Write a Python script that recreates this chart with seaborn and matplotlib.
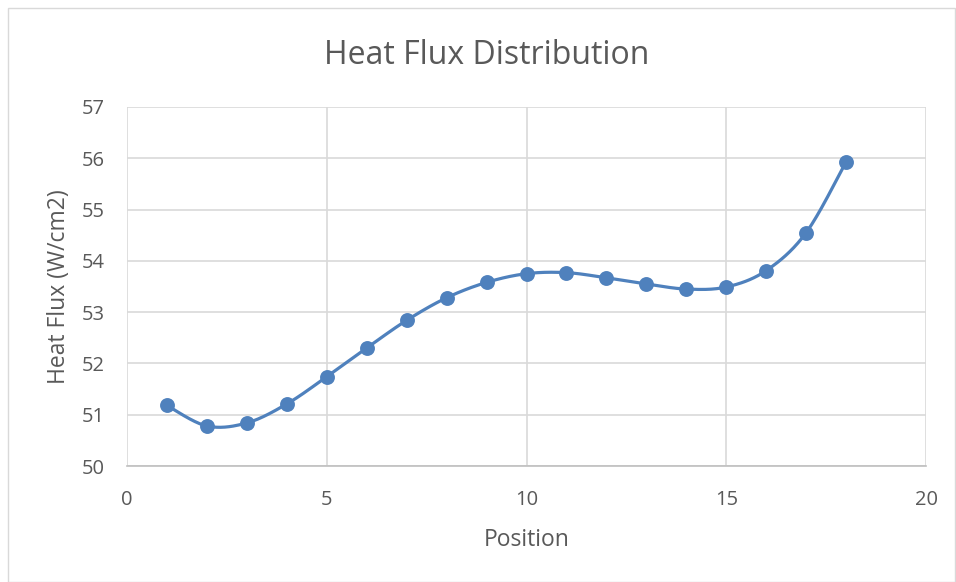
import numpy as np
import pandas as pd
import matplotlib
matplotlib.use("Agg")
import matplotlib.pyplot as plt
import seaborn as sns
from matplotlib.patches import Rectangle

positions = [1, 2, 3, 4, 5, 6, 7, 8, 9, 10, 11, 12, 13, 14, 15, 16, 17, 18]
heat_flux = [51.18, 50.78, 50.84, 51.21, 51.74, 52.30, 52.84, 53.28, 53.58,
             53.75, 53.77, 53.67, 53.55, 53.45, 53.49, 53.81, 54.55, 55.93]
x_ticks = [0, 5, 10, 15, 20]
y_ticks = [50, 51, 52, 53, 54, 55, 56, 57]
title = "Heat Flux Distribution"
x_label = "Position"
y_label = "Heat Flux (W/cm2)"

sns.set_theme(style="white")
plt.rcParams['font.family'] = ['Open Sans', 'DejaVu Sans']

df = pd.DataFrame({"Position": positions, "HeatFlux": heat_flux})

# Excel-style smoothed line (Catmull-Rom Bezier through the data points)
def smooth_curve(xs, ys, n=30):
    pts = np.column_stack([xs, ys]).astype(float)
    out = []
    for i in range(len(pts) - 1):
        p0 = pts[i - 1] if i > 0 else pts[i]
        p1 = pts[i]
        p2 = pts[i + 1]
        p3 = pts[i + 2] if i + 2 < len(pts) else pts[i + 1]
        c1 = p1 + (p2 - p0) / 6.0
        c2 = p2 - (p3 - p1) / 6.0
        t = np.linspace(0, 1, n)[:, None]
        seg = ((1 - t) ** 3) * p1 + 3 * ((1 - t) ** 2) * t * c1 + 3 * (1 - t) * t ** 2 * c2 + t ** 3 * p2
        out.append(seg if i == 0 else seg[1:])
    return np.vstack(out)

curve = smooth_curve(df["Position"], df["HeatFlux"])
curve_df = pd.DataFrame({"x": curve[:, 0], "y": curve[:, 1]})

color = "#4f81bd"
text_color = "#595959"
fig = plt.figure(figsize=(9.56, 5.82), dpi=100)
ax = fig.add_axes([127 / 956, 1 - 466 / 582, (926 - 127) / 956, (466 - 107) / 582])

sns.lineplot(data=curve_df, x="x", y="y", ax=ax, color=color, linewidth=2.3,
             sort=False, estimator=None, zorder=3)
sns.scatterplot(data=df, x="Position", y="HeatFlux", ax=ax, color=color, s=115,
                edgecolor=color, linewidth=0, zorder=4)

ax.set_xlim(0, 20)
ax.set_ylim(50, 57)
ax.set_xticks(x_ticks)
ax.set_yticks(y_ticks)
ax.grid(True, color="#d9d9d9", linewidth=1.2)
ax.set_axisbelow(True)
for s in ["top", "right", "left"]:
    ax.spines[s].set_visible(False)
ax.spines["bottom"].set_color("#bfbfbf")
ax.spines["bottom"].set_linewidth(1.2)
ax.tick_params(axis="both", length=0, labelsize=14.5, colors=text_color)
ax.tick_params(axis="y", pad=16)
ax.tick_params(axis="x", pad=17)
ax.set_xlabel(x_label, fontsize=16.5, color=text_color, labelpad=13)
ax.set_ylabel(y_label, fontsize=16.5, color=text_color, labelpad=8)
fig.text(487 / 956, 1 - 55 / 582, title, ha="center", va="center",
         fontsize=23, color=text_color)

fig.patches.append(Rectangle((8 / 956, 0), 1 - 8 / 956 - 0.001, 1 - 8 / 582,
                             transform=fig.transFigure, fill=False,
                             edgecolor="#d9d9d9", linewidth=1))

fig.savefig("out.png", dpi=100, facecolor="white")
